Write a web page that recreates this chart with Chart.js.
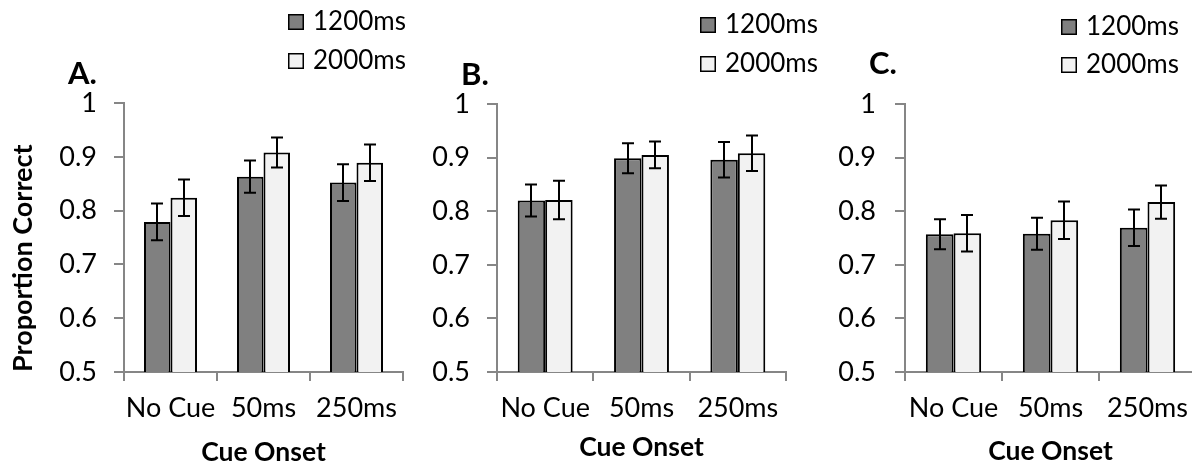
<!DOCTYPE html>
<html>
<head>
<meta charset="utf-8">
<script src="https://cdn.jsdelivr.net/npm/chart.js@4.4.0/dist/chart.umd.min.js"></script>
<style>
  html, body { margin: 0; padding: 0; background: #fff; }
  #wrap { position: relative; width: 1192px; height: 464px; overflow: hidden; background: #fff; }
  .panel { position: absolute; top: 0; height: 470px; }
</style>
</head>
<body>
<div id="wrap">
  <div class="panel" style="left:0px;width:410px"><canvas id="cA"></canvas></div>
  <div class="panel" style="left:410px;width:410px"><canvas id="cB"></canvas></div>
  <div class="panel" style="left:820px;width:380px"><canvas id="cC"></canvas></div>
</div>
<script>
// ---- data ----
const categories = ["No Cue", "50ms", "250ms"];
const seriesNames = ["1200ms", "2000ms"];
const panelLabels = ["A.", "B.", "C."];
const yTicks = [0.5, 0.6, 0.7, 0.8, 0.9, 1];

const A_1200 = [0.779, 0.863, 0.852];
const A_2000 = [0.824, 0.908, 0.889];
const A_1200_err = [0.034, 0.030, 0.034];
const A_2000_err = [0.034, 0.028, 0.034];

const B_1200 = [0.820, 0.899, 0.896];
const B_2000 = [0.821, 0.905, 0.908];
const B_1200_err = [0.030, 0.028, 0.033];
const B_2000_err = [0.036, 0.025, 0.033];

const C_1200 = [0.757, 0.758, 0.769];
const C_2000 = [0.759, 0.783, 0.817];
const C_1200_err = [0.028, 0.030, 0.034];
const C_2000_err = [0.034, 0.035, 0.031];

// ---- style ----
const FONT = "Lato";
const DARK = "#808080";
const LIGHT = "#f2f2f2";
const AXIS = "#868686";

const errorBarPlugin = {
  id: "errorBars",
  afterDatasetsDraw(chart) {
    const ctx = chart.ctx;
    const ys = chart.scales.y;
    ctx.save();
    ctx.strokeStyle = "#000";
    ctx.lineWidth = 2;
    chart.data.datasets.forEach((ds, di) => {
      const meta = chart.getDatasetMeta(di);
      meta.data.forEach((el, i) => {
        const v = ds.data[i], e = ds.err[i];
        const x = Math.round(el.x);
        const yt = ys.getPixelForValue(v + e);
        const yb = ys.getPixelForValue(v - e);
        ctx.beginPath();
        ctx.moveTo(x, yt); ctx.lineTo(x, yb);
        ctx.moveTo(x - 6, yt); ctx.lineTo(x + 6, yt);
        ctx.moveTo(x - 6, yb); ctx.lineTo(x + 6, yb);
        ctx.stroke();
      });
    });
    ctx.restore();
  }
};

const decorPlugin = {
  id: "decor",
  afterDraw(chart) {
    const o = chart.options.plugins.decor;
    const ctx = chart.ctx;
    ctx.save();
    // panel letter
    ctx.fillStyle = "#000";
    ctx.font = "bold 31px " + FONT;
    ctx.textAlign = "left";
    ctx.textBaseline = "alphabetic";
    ctx.fillText(o.letter, o.letterX, o.letterY);
    // legend
    const colors = [DARK, LIGHT];
    ctx.font = "26px " + FONT;
    ctx.textBaseline = "middle";
    for (let k = 0; k < 2; k++) {
      const by = o.legY[k];
      ctx.fillStyle = colors[k];
      ctx.fillRect(o.legX, by, 16, 16);
      ctx.strokeStyle = "#000";
      ctx.lineWidth = 1.5;
      ctx.strokeRect(o.legX + 0.75, by + 0.75, 14.5, 14.5);
      ctx.fillStyle = "#000";
      ctx.fillText(seriesNames[k], o.legX + 25, by + 8);
    }
    ctx.restore();
  }
};

function makePanel(id, d1, d2, e1, e2, cfg) {
  const W = cfg.W, H = 470;
  const cv = document.getElementById(id);
  cv.width = W; cv.height = H;
  cv.style.width = W + "px"; cv.style.height = H + "px";
  return new Chart(cv, {
    type: "bar",
    data: {
      labels: categories,
      datasets: [
        { label: seriesNames[0], data: d1, err: e1, backgroundColor: DARK, borderColor: "#000", borderWidth: 2 },
        { label: seriesNames[1], data: d2, err: e2, backgroundColor: LIGHT, borderColor: "#000", borderWidth: 2 }
      ]
    },
    options: {
      responsive: false,
      animation: false,
      devicePixelRatio: 1,
      datasets: { bar: { categoryPercentage: 0.57, barPercentage: 1.0 } },
      layout: { padding: { left: 0, right: W - cfg.right, top: cfg.top, bottom: 0 } },
      plugins: {
        legend: { display: false },
        tooltip: { enabled: false },
        decor: cfg.decor
      },
      scales: {
        x: {
          grid: { display: true, drawOnChartArea: false, color: AXIS, tickLength: 9, offset: true, lineWidth: 2 },
          border: { color: AXIS, width: 2 },
          ticks: { color: "#000", font: { family: FONT, size: 27 }, padding: 11, maxRotation: 0 },
          title: { display: true, text: "Cue Onset", color: "#000", font: { family: FONT, size: 26.5, weight: "bold", lineHeight: 1.0 }, padding: { top: 0, bottom: cfg.xTitlePad } },
          afterFit(s) { s.height = H - cfg.bottom; }
        },
        y: {
          min: 0.5, max: 1,
          afterBuildTicks(s) { s.ticks = yTicks.map(v => ({ value: v })); },
          grid: { display: true, drawOnChartArea: false, color: AXIS, tickLength: 10, lineWidth: 2 },
          border: { color: AXIS, width: 2 },
          ticks: { color: "#000", font: { family: FONT, size: 27 }, padding: cfg.yPad, callback: v => String(+(+v).toFixed(1)) },
          title: cfg.yTitle ? { display: true, align: "start", text: "Proportion Correct", color: "#000", font: { family: FONT, size: 27, weight: "bold", lineHeight: 1.2 }, padding: { top: 7, bottom: 0 } } : { display: false },
          afterFit(s) { s.width = cfg.left; }
        }
      }
    },
    plugins: [errorBarPlugin, decorPlugin]
  });
}

makePanel("cA", A_1200, A_2000, A_1200_err, A_2000_err, {
  W: 410, left: 124, right: 403, top: 103, bottom: 372, yPad: 17, xTitlePad: 4, yTitle: true,
  decor: { letter: panelLabels[0], letterX: 68, letterY: 84, legX: 288, legY: [14, 53] }
});
makePanel("cB", B_1200, B_2000, B_1200_err, B_2000_err, {
  W: 410, left: 87, right: 376, top: 104, bottom: 372, yPad: 17, xTitlePad: 9, yTitle: false,
  decor: { letter: panelLabels[1], letterX: 51, letterY: 85, legX: 290, legY: [17, 56] }
});
makePanel("cC", C_1200, C_2000, C_1200_err, C_2000_err, {
  W: 380, left: 85, right: 376, top: 104, bottom: 372, yPad: 19, xTitlePad: 5, yTitle: false,
  decor: { letter: panelLabels[2], letterX: 49, letterY: 74, legX: 241, legY: [19, 57] }
});
</script>
</body>
</html>
